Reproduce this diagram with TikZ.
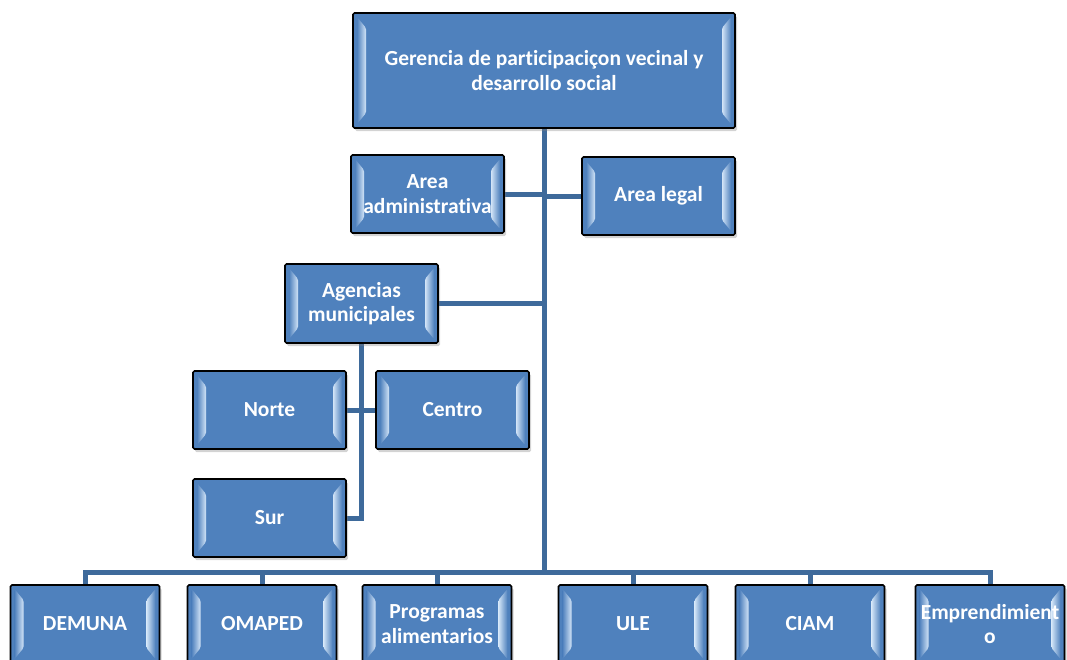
\documentclass[tikz,border=0pt]{standalone}
\usepackage{fontspec}
\setmainfont{Carlito}[Ligatures=NoCommon]
\usetikzlibrary{calc,shadows,backgrounds}
\definecolor{boxblue}{HTML}{4F81BD}
\definecolor{bevlight}{HTML}{D2E4F7}
\definecolor{linkblue}{HTML}{3E6A9B}
\begin{document}
\begin{tikzpicture}[x=1pt,y=-1pt,
  mybox/.style={rectangle, draw=black, line width=1.6pt, rounded corners=1.5pt, fill=boxblue,
    text=white, font=\fontsize{21.5}{24.5}\selectfont\bfseries, align=center, inner sep=0pt,
    minimum width=153pt, minimum height=78pt,
    drop shadow={shadow xshift=2pt, shadow yshift=-3pt, opacity=0.35},
    path picture={
      \coordinate (bbnw) at (path picture bounding box.north west);
      \coordinate (bbse) at (path picture bounding box.south east);
      \shade[left color=boxblue, right color=bevlight]
        ($(bbnw)+(4pt,-4pt)$) -- ($(bbnw)+(13pt,-15pt)$) -- ($(bbnw |- bbse)+(13pt,15pt)$) -- ($(bbnw |- bbse)+(4pt,4pt)$) -- cycle;
      \shade[left color=bevlight, right color=boxblue]
        ($(bbnw -| bbse)+(-13pt,-15pt)$) -- ($(bbnw -| bbse)+(-4pt,-4pt)$) -- ($(bbse)+(-4pt,4pt)$) -- ($(bbse)+(-13pt,15pt)$) -- cycle;
    }},
  mybot/.style={mybox, minimum width=149pt},
  myline/.style={draw=linkblue, line width=5pt}]
  \useasboundingbox (0,0) rectangle (1067,659);

  % head and staff
  \node[mybox, minimum width=382pt, minimum height=115pt] (top) at (544,70.5) {Gerencia de participaciçon vecinal y\\desarrollo social};
  \node[mybox] (admin) at (427.5,194) {Area\\administrativa};
  \node[mybox] (legal) at (658.5,196) {Area legal};

  % agencias
  \node[mybox, minimum height=79pt] (agencias) at (361.5,303.5) {Agencias\\municipales};
  \node[mybox] (norte) at (269.5,410) {Norte};
  \node[mybox] (centro) at (452.5,410) {Centro};
  \node[mybox] (sur) at (269.5,518) {Sur};

  % bottom row
  \coordinate (bus) at (544,572);
  \node[mybot] (demuna) at (85,624) {DEMUNA};
  \node[mybot] (omaped) at (262,624) {OMAPED};
  \node[mybot] (programas) at (437,624) {Programas\\alimentarios};
  \node[mybot] (ule) at (633,624) {ULE};
  \node[mybot] (ciam) at (810,624) {CIAM};
  \node[mybot] (emprend) at (990,624) {Emprendimient\\o};

  \begin{scope}[on background layer]
  \draw[myline] (top.south) -- (bus);
  \draw[myline] (admin.east) -- (admin.east -| top.south);
  \draw[myline] (legal.west) -- (legal.west -| top.south);
  \draw[myline] (agencias.east) -- (agencias.east -| top.south);
  \draw[myline] (agencias.south) |- (sur.east);
  \draw[myline] (norte.east) -- (centro.west);
  \draw[myline] (demuna.north) -- (demuna.north |- bus) -- (emprend.north |- bus) -- (emprend.north);
  \foreach \n in {omaped,programas,ule,ciam}
    \draw[myline] (\n.north) -- (\n.north |- bus);
  \end{scope}

\end{tikzpicture}
\end{document}
